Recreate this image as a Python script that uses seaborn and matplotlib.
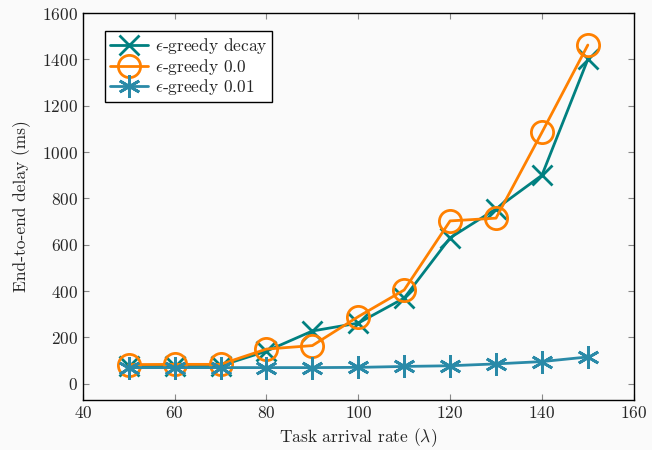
import matplotlib
matplotlib.use("Agg")
import matplotlib.pyplot as plt
import pandas as pd
import seaborn as sns

# data
arrival_rate = [50, 60, 70, 80, 90, 100, 110, 120, 130, 140, 150]
delay_decay = [78, 78, 78, 141, 228, 262, 370, 630, 755, 900, 1400]
delay_00 = [83, 84, 84, 150, 165, 290, 405, 703, 715, 1085, 1462]
delay_001 = [70, 70, 70, 70, 70, 71, 75, 78, 86, 96, 116]

labels = [r"$\epsilon$-greedy decay", r"$\epsilon$-greedy 0.0", r"$\epsilon$-greedy 0.01"]
colors = ["#008080", "#ff8000", "#2a8aa8"]

sns.set_style("ticks")
plt.rcParams["font.family"] = ["cmr10", "DejaVu Serif"]
plt.rcParams["mathtext.fontset"] = "cm"
plt.rcParams["axes.formatter.use_mathtext"] = True

fig = plt.figure(figsize=(6.52, 4.5), dpi=100, facecolor="#fafafa")
ax = fig.add_axes([0.127, 0.111, 0.845, 0.86])
ax.set_facecolor("#fafafa")

df = pd.DataFrame({"x": arrival_rate, "decay": delay_decay,
                   "g00": delay_00, "g001": delay_001})

sns.lineplot(data=df, x="x", y="decay", ax=ax, color=colors[0], lw=2,
             marker="x", markersize=14, markeredgewidth=2,
             markeredgecolor=colors[0], label=labels[0])
sns.lineplot(data=df, x="x", y="g00", ax=ax, color=colors[1], lw=2,
             marker="o", markersize=16, markeredgewidth=2,
             markerfacecolor="none", markeredgecolor=colors[1], label=labels[1])
sns.lineplot(data=df, x="x", y="g001", ax=ax, color=colors[2], lw=2,
             marker=(6, 2, 0), markersize=16, markeredgewidth=2,
             markeredgecolor=colors[2], label=labels[2])

ax.set_xlim(40, 160)
ax.set_ylim(-70, 1600)
ax.set_xticks(range(40, 161, 20))
ax.set_yticks(range(0, 1601, 200))
ax.set_xlabel(r"Task arrival rate ($\lambda$)", fontsize=12.5)
ax.set_ylabel("End-to-end delay (ms)", fontsize=12.5, labelpad=8)
ax.tick_params(direction="in", top=True, right=True, length=4,
               color="#888888", labelsize=12.5)
for s in ax.spines.values():
    s.set_color("black")
    s.set_linewidth(1)

leg = ax.legend(loc="upper left", fontsize=12.5, frameon=True, fancybox=False,
                edgecolor="black", framealpha=1, facecolor="white",
                handlelength=2.2, borderpad=0.25, labelspacing=0.05,
                handletextpad=0.4, bbox_to_anchor=(0.025, 0.975))
leg.get_frame().set_linewidth(1)

fig.savefig("out.png", dpi=100, facecolor=fig.get_facecolor())
